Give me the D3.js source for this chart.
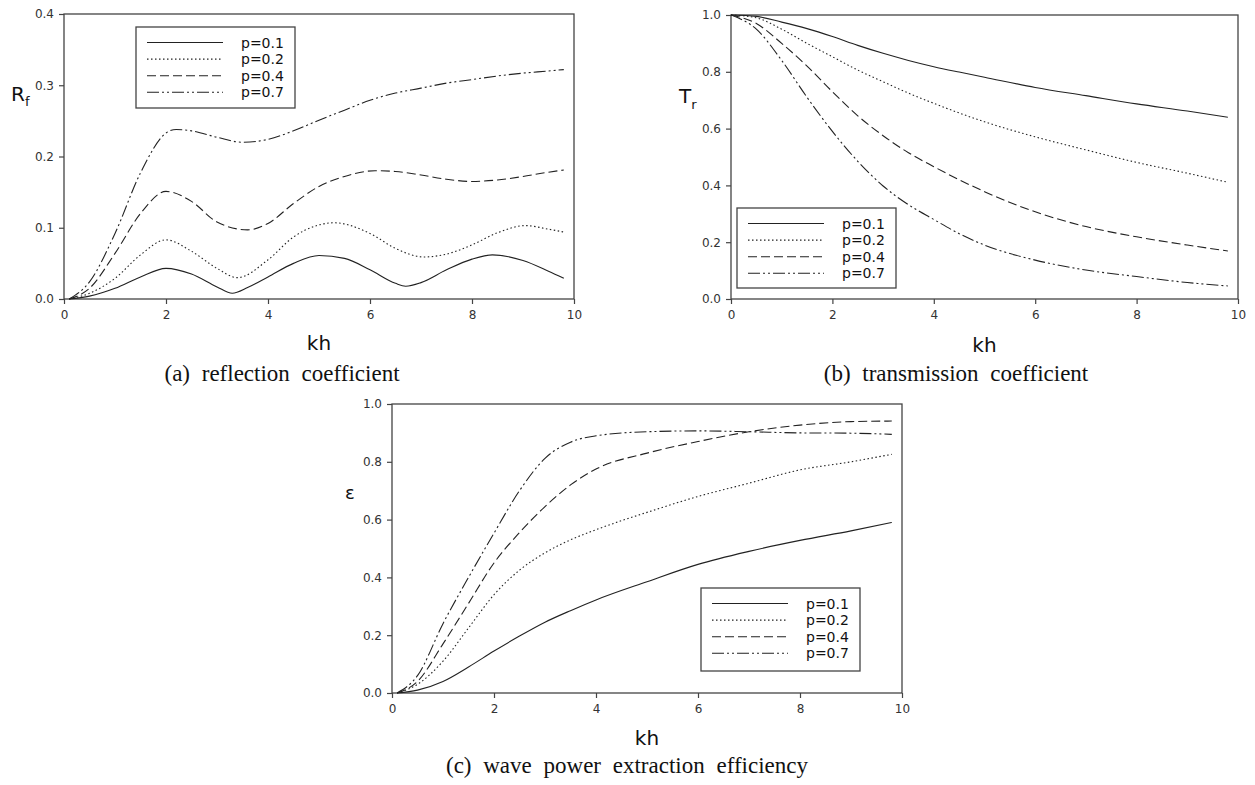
<!DOCTYPE html>
<html>
<head>
<meta charset="utf-8">
<script src="https://cdn.jsdelivr.net/npm/d3@7/dist/d3.min.js"></script>
<style>
    body { margin: 0; background: #fff; }
    svg { display: block; }
    .tick text { font-family: 'DejaVu Sans', sans-serif; fill: #333; }
    .tick line { stroke: #444; stroke-width: 1.2; }
    .sans { font-family: 'DejaVu Sans', sans-serif; fill: #111; }
    .caption { font-family: 'Liberation Serif', 'DejaVu Serif', serif; fill: #111; word-spacing: 6px; }
</style>
</head>
<body>
<svg id="chart" width="1255" height="785"></svg>
<script>

// legend labels and line styles
var pLabels = [ 'p=0.1', 'p=0.2', 'p=0.4', 'p=0.7' ];
var dashes = [ null, '1.5,2.5', '9,4', '12,3,2,3,2,3' ];

var xTicks = [ 0, 2, 4, 6, 8, 10 ];
var rfTicks = [ 0, 0.1, 0.2, 0.3, 0.4 ];
var trTicks = [ 0, 0.2, 0.4, 0.6, 0.8, 1.0 ];
var effTicks = [ 0, 0.2, 0.4, 0.6, 0.8, 1.0 ];

// (a) reflection coefficient
var khRf01 = [ 0.1, 0.5, 1, 1.5, 2, 2.5, 3, 3.3, 3.6, 4, 4.5, 5, 5.5, 6, 6.5, 6.7, 7, 7.5, 8, 8.4, 9, 9.5, 9.8 ];
var rf01 = [ 0, 0.004, 0.015, 0.031, 0.043, 0.035, 0.017, 0.008, 0.016, 0.031, 0.050, 0.061, 0.057, 0.041, 0.022, 0.018, 0.023, 0.041, 0.056, 0.062, 0.054, 0.039, 0.029 ];
var khRf02 = [ 0.1, 0.5, 1, 1.5, 2, 2.5, 3, 3.4, 4, 4.5, 5, 5.3, 6, 6.5, 7.05, 7.5, 8, 8.5, 9.05, 9.5, 9.8 ];
var rf02 = [ 0, 0.008, 0.029, 0.062, 0.083, 0.067, 0.043, 0.030, 0.055, 0.087, 0.104, 0.107, 0.092, 0.071, 0.059, 0.063, 0.076, 0.093, 0.103, 0.098, 0.094 ];
var khRf04 = [ 0.1, 0.5, 1, 1.5, 2, 2.5, 3, 3.6, 4, 4.5, 5, 5.5, 6.1, 6.5, 7, 7.5, 8, 8.5, 9, 9.5, 9.8 ];
var rf04 = [ 0, 0.015, 0.064, 0.120, 0.151, 0.137, 0.108, 0.097, 0.106, 0.134, 0.158, 0.172, 0.180, 0.179, 0.174, 0.168, 0.165, 0.167, 0.172, 0.178, 0.181 ];
var khRf07 = [ 0.1, 0.5, 1, 1.5, 2, 2.2, 2.5, 3, 3.5, 4, 4.5, 5, 5.5, 6, 6.5, 7, 7.5, 8, 8.5, 9, 9.5, 9.8 ];
var rf07 = [ 0, 0.024, 0.092, 0.177, 0.233, 0.238, 0.236, 0.227, 0.220, 0.224, 0.236, 0.251, 0.265, 0.279, 0.289, 0.296, 0.303, 0.308, 0.313, 0.317, 0.320, 0.322 ];

// (b) transmission coefficient
var khTr = [ 0, 0.5, 1, 1.5, 2, 2.5, 3, 3.5, 4, 4.5, 5, 6, 7, 8, 9, 9.8 ];
var tr01 = [ 1, 0.995, 0.975, 0.952, 0.924, 0.893, 0.865, 0.840, 0.818, 0.799, 0.781, 0.745, 0.716, 0.687, 0.662, 0.640 ];
var tr02 = [ 1, 0.990, 0.950, 0.900, 0.853, 0.806, 0.765, 0.725, 0.689, 0.655, 0.624, 0.571, 0.525, 0.481, 0.443, 0.411 ];
var tr04 = [ 1, 0.970, 0.900, 0.820, 0.730, 0.645, 0.575, 0.515, 0.466, 0.420, 0.378, 0.307, 0.255, 0.219, 0.190, 0.169 ];
var tr07 = [ 1, 0.950, 0.840, 0.710, 0.590, 0.485, 0.398, 0.332, 0.280, 0.230, 0.190, 0.137, 0.102, 0.079, 0.058, 0.046 ];

// (c) wave power extraction efficiency
var khEff = [ 0.1, 0.5, 1, 1.5, 2, 2.5, 3, 3.5, 4, 5, 6, 7, 8, 9, 9.8 ];
var eff01 = [ 0, 0.010, 0.040, 0.090, 0.145, 0.197, 0.245, 0.285, 0.322, 0.385, 0.445, 0.490, 0.528, 0.561, 0.590 ];
var eff02 = [ 0, 0.030, 0.110, 0.225, 0.340, 0.425, 0.485, 0.530, 0.565, 0.625, 0.680, 0.726, 0.772, 0.800, 0.826 ];
var eff04 = [ 0, 0.040, 0.170, 0.310, 0.450, 0.555, 0.645, 0.720, 0.775, 0.830, 0.870, 0.904, 0.927, 0.939, 0.941 ];
var eff07 = [ 0, 0.060, 0.240, 0.400, 0.553, 0.700, 0.812, 0.868, 0.890, 0.904, 0.907, 0.904, 0.900, 0.899, 0.895 ];

var svg = d3.select('#chart');

function drawPanel ( cfg ) {

    var x = d3.scaleLinear()
        .domain([ 0, 10 ])
        .range([ cfg.left, cfg.right ]);

    var y = d3.scaleLinear()
        .domain([ 0, cfg.yMax ])
        .range([ cfg.bottom, cfg.top ]);

    var g = svg.append('g');

    g.append('g')
        .attr('transform', 'translate(0,' + cfg.bottom + ')')
        .call( d3.axisBottom( x ).tickValues( xTicks ).tickFormat( d3.format('d') )
            .tickSize( 5 ).tickPadding( 6 ).tickSizeOuter( 0 ) );

    g.append('g')
        .attr('transform', 'translate(' + cfg.left + ',0)')
        .call( d3.axisLeft( y ).tickValues( cfg.yTicks ).tickFormat( d3.format('.1f') )
            .tickSize( 5 ).tickPadding( 5 ).tickSizeOuter( 0 ) );

    g.selectAll('.domain').remove();
    g.selectAll('.tick text').style('font-size', '12px');

    // frame
    g.append('rect')
        .attr('x', cfg.left)
        .attr('y', cfg.top)
        .attr('width', cfg.right - cfg.left)
        .attr('height', cfg.bottom - cfg.top)
        .style('fill', 'none')
        .style('stroke', '#444')
        .style('stroke-width', 1.3);

    var line = d3.line()
        .x( function ( d ) { return x( d[0] ) } )
        .y( function ( d ) { return y( d[1] ) } )
        .curve( d3.curveMonotoneX );

    cfg.series.forEach( function ( s, i ) {

        var pts = s.kh.map( function ( k, j ) { return [ k, s.val[j] ] } );

        g.append('path')
            .datum( pts )
            .attr('d', line)
            .style('fill', 'none')
            .style('stroke', '#222')
            .style('stroke-width', 1.1)
            .style('stroke-dasharray', dashes[i]);

    });

    // legend
    var lg = cfg.legend;

    g.append('rect')
        .attr('x', lg.x)
        .attr('y', lg.y)
        .attr('width', 159)
        .attr('height', lg.h)
        .style('fill', '#fff')
        .style('stroke', '#444')
        .style('stroke-width', 1.3);

    pLabels.forEach( function ( label, i ) {

        var ry = lg.y + 15.5 + i * 16.6;

        g.append('line')
            .attr('x1', lg.x + 11)
            .attr('x2', lg.x + 87)
            .attr('y1', ry)
            .attr('y2', ry)
            .style('stroke', '#222')
            .style('stroke-width', 1.1)
            .style('stroke-dasharray', dashes[i]);

        g.append('text')
            .attr('class', 'sans')
            .attr('x', lg.x + 105)
            .attr('y', ry)
            .attr('dy', '0.36em')
            .style('font-size', '14px')
            .text( label );

    });

    // x axis title
    g.append('text')
        .attr('class', 'sans')
        .attr('x', ( cfg.left + cfg.right ) / 2)
        .attr('y', cfg.khY)
        .attr('text-anchor', 'middle')
        .style('font-size', '20px')
        .text('kh');

    // y axis title
    var yt = g.append('text')
        .attr('class', 'sans')
        .attr('x', cfg.yTitle.x)
        .attr('y', cfg.yTitle.y)
        .style('font-size', cfg.yTitle.font + 'px')
        .text( cfg.yTitle.main );

    if ( cfg.yTitle.sub ) {

        yt.append('tspan')
            .attr('dy', cfg.yTitle.subDy)
            .style('font-size', '13px')
            .text( cfg.yTitle.sub );

    }

    // caption
    g.append('text')
        .attr('class', 'caption')
        .attr('x', cfg.caption.x)
        .attr('y', cfg.caption.y)
        .attr('text-anchor', 'middle')
        .style('font-size', '23px')
        .text( cfg.caption.text );

}

drawPanel({
    left: 64, right: 574, top: 14, bottom: 299,
    yMax: 0.4, yTicks: rfTicks,
    series: [
        { kh: khRf01, val: rf01 },
        { kh: khRf02, val: rf02 },
        { kh: khRf04, val: rf04 },
        { kh: khRf07, val: rf07 }
    ],
    legend: { x: 136, y: 27, h: 81 },
    khY: 350,
    yTitle: { x: 11, y: 101, font: 20, main: 'R', sub: 'f', subDy: 5 },
    caption: { x: 282, y: 381, text: '(a) reflection coefficient' }
});

drawPanel({
    left: 731, right: 1238, top: 15, bottom: 299,
    yMax: 1.0, yTicks: trTicks,
    series: [
        { kh: khTr, val: tr01 },
        { kh: khTr, val: tr02 },
        { kh: khTr, val: tr04 },
        { kh: khTr, val: tr07 }
    ],
    legend: { x: 737, y: 208, h: 80 },
    khY: 352,
    yTitle: { x: 679, y: 103, font: 20, main: 'T', sub: 'r', subDy: 6 },
    caption: { x: 956, y: 381, text: '(b) transmission coefficient' }
});

drawPanel({
    left: 392, right: 902, top: 404, bottom: 693,
    yMax: 1.0, yTicks: effTicks,
    series: [
        { kh: khEff, val: eff01 },
        { kh: khEff, val: eff02 },
        { kh: khEff, val: eff04 },
        { kh: khEff, val: eff07 }
    ],
    legend: { x: 701, y: 588, h: 83 },
    khY: 745,
    yTitle: { x: 345, y: 499, font: 18, main: 'ε' },
    caption: { x: 627, y: 773, text: '(c) wave power extraction efficiency' }
});

</script>
</body>
</html>
